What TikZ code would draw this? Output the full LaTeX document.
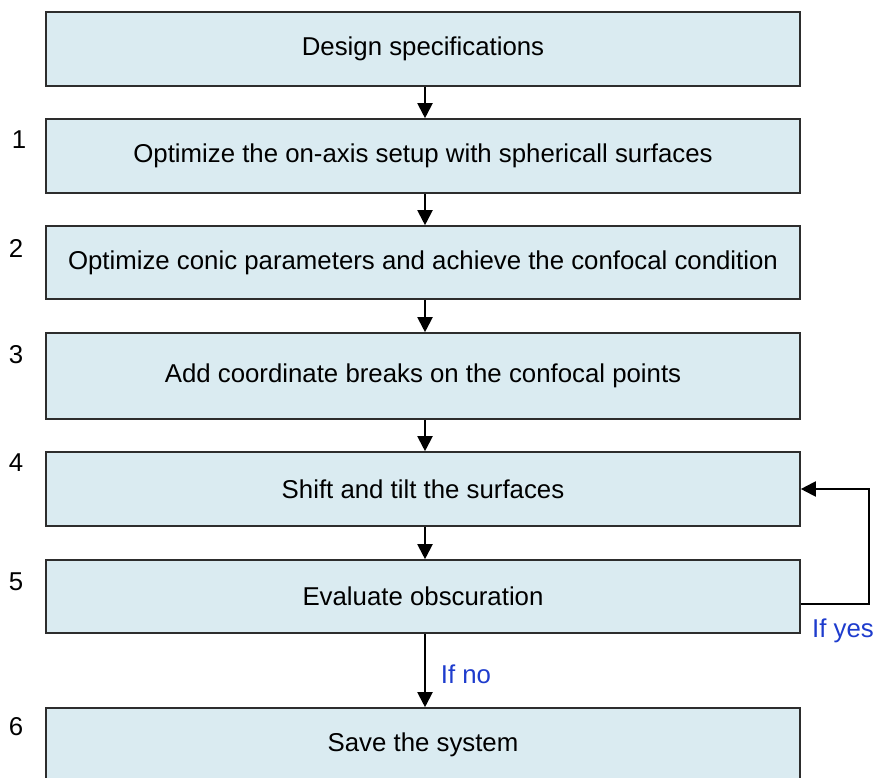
\documentclass[tikz,border=0pt]{standalone}
\usepackage{fontspec}
\setmainfont{Liberation Sans}
\usetikzlibrary{arrows.meta}
\definecolor{boxfill}{RGB}{218,235,241}
\definecolor{boxline}{RGB}{45,45,45}
\definecolor{labelblue}{RGB}{30,60,205}
\tikzset{
  stepbox/.style={draw=boxline, line width=1.6pt, fill=boxfill, rectangle,
    minimum width=754pt, inner sep=0pt, font=\fontsize{25.8}{30}\selectfont},
  flow/.style={line width=2pt, -{Triangle[length=15pt,width=15pt]}},
  numlabel/.style={font=\fontsize{25.8}{30}\selectfont},
  decision/.style={font=\fontsize{25.8}{30}\selectfont, text=labelblue}
}
\begin{document}
\begin{tikzpicture}[x=1pt,y=1pt]
  \useasboundingbox (0,0) rectangle (877,-778);
  \begin{scope}
    \clip (0,0) rectangle (877,-778);
    \node[stepbox, minimum height=74pt] (s0) at (423,-49) {Design specifications};
    \node[stepbox, minimum height=74pt] (s1) at (423,-156) {Optimize the on-axis setup with sphericall surfaces};
    \node[stepbox, minimum height=73pt] (s2) at (423,-262.5) {Optimize conic parameters and achieve the confocal condition};
    \node[stepbox, minimum height=86pt] (s3) at (423,-376) {Add coordinate breaks on the confocal points};
    \node[stepbox, minimum height=74pt] (s4) at (423,-489) {Shift and tilt the surfaces};
    \node[stepbox, minimum height=73pt] (s5) at (423,-596.5) {Evaluate obscuration};
    \node[stepbox, minimum height=74pt] (s6) at (423,-745) {Save the system};
  \end{scope}

  \node[numlabel] (n1) at (19,-140) {1};
  \node[numlabel] (n2) at (16,-248) {2};
  \node[numlabel] (n3) at (16,-355) {3};
  \node[numlabel] (n4) at (16,-463) {4};
  \node[numlabel] (n5) at (16,-582) {5};
  \node[numlabel] (n6) at (16,-727) {6};

  \draw[flow] (s0.south -| 425,0) -- (s1.north -| 425,0);
  \draw[flow] (s1.south -| 425,0) -- (s2.north -| 425,0);
  \draw[flow] (s2.south -| 425,0) -- (s3.north -| 425,0);
  \draw[flow] (s3.south -| 425,0) -- (s4.north -| 425,0);
  \draw[flow] (s4.south -| 425,0) -- (s5.north -| 425,0);
  \draw[flow] (s5.south -| 425,0) -- (s6.north -| 425,0);

  \coordinate (loopA) at (869,-604);
  \coordinate (loopB) at (869,-489);
  \draw[flow] (s5.east |- loopA) -- (loopA) -- (loopB) -- (s4.east);

  \node[decision] (yes) at (843,-631) {If yes};
  \node[decision] (no) at (466,-674) {If no};
\end{tikzpicture}
\end{document}
